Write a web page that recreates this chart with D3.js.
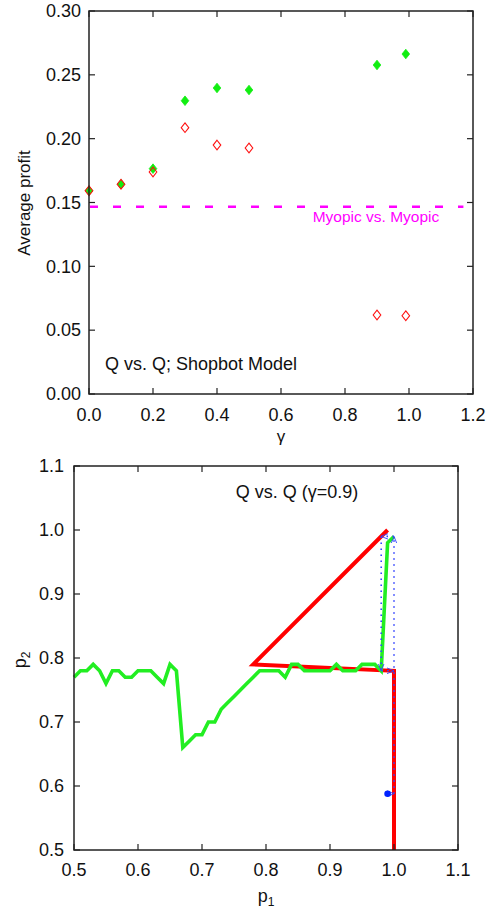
<!DOCTYPE html>
<html><head><meta charset="utf-8">
<script src="https://cdn.jsdelivr.net/npm/d3@7"></script>
<style>
html,body{margin:0;padding:0;background:#fff;}
svg{display:block;font-family:"Liberation Sans",Arial,sans-serif;}
</style></head>
<body>
<svg id="c" width="489" height="911"></svg>
<script>
// ---- Top chart data ----
const gammaValues = [0.0, 0.1, 0.2, 0.3, 0.4, 0.5, 0.9, 0.99];
const profitGreen = [0.1592, 0.1643, 0.1765, 0.2297, 0.2397, 0.2381, 0.2577, 0.2663];
const profitRed   = [0.1592, 0.1643, 0.1739, 0.2086, 0.1950, 0.1927, 0.0619, 0.0613];
const myopicLevel = 0.1467;
const topXTicks = [0, 0.2, 0.4, 0.6, 0.8, 1.0, 1.2];
const topYTicks = [0, 0.05, 0.10, 0.15, 0.20, 0.25, 0.30];

// ---- Bottom chart data ----
const greenP1 = [0.50,0.51,0.52,0.53,0.54,0.55,0.56,0.57,0.58,0.59,0.60,0.61,0.62,0.63,0.64,0.65,0.66,0.67,0.68,0.69,0.70,0.71,0.72,0.73,0.74,0.75,0.76,0.77,0.78,0.79,0.80,0.81,0.82,0.83,0.84,0.85,0.86,0.87,0.88,0.89,0.90,0.91,0.92,0.93,0.94,0.95,0.96,0.97,0.98,0.99,1.00];
const greenP2 = [0.77,0.78,0.78,0.79,0.78,0.76,0.78,0.78,0.77,0.77,0.78,0.78,0.78,0.77,0.76,0.79,0.78,0.66,0.67,0.68,0.68,0.70,0.70,0.72,0.73,0.74,0.75,0.76,0.77,0.78,0.78,0.78,0.78,0.77,0.79,0.79,0.78,0.78,0.78,0.78,0.78,0.79,0.78,0.78,0.78,0.79,0.79,0.79,0.78,0.98,0.99];
const redP1 = [0.99, 0.78, 1.00, 1.00];
const redP2 = [1.00, 0.79, 0.78, 0.50];
const trajP1 = [0.99, 1.00, 1.00, 0.98, 0.98, 1.00];
const trajP2 = [0.588, 0.588, 0.99, 0.99, 0.78, 0.78];
const botXTicks = [0.5, 0.6, 0.7, 0.8, 0.9, 1.0, 1.1];
const botYTicks = [0.5, 0.6, 0.7, 0.8, 0.9, 1.0, 1.1];

const svg = d3.select("#c");
const AXC = "#222";
const FS = 18;

svg.append("defs").append("marker")
  .attr("id","ah").attr("viewBox","0 0 10 10").attr("refX",10).attr("refY",5)
  .attr("markerWidth",7).attr("markerHeight",7).attr("orient","auto")
  .attr("markerUnits","userSpaceOnUse")
  .append("path").attr("d","M0,1 L10,5 L0,9").attr("fill","none").attr("stroke","#3344ff").attr("stroke-width",1.3);

function frame(g, x, y, xt, yt, xfmt, yfmt, xLabY, yLabX) {
  const [x0,x1] = x.range(), [y0,y1] = y.range(); // y0 bottom
  const T = 6;
  xt.forEach(v => {
    const px = x(v);
    g.append("line").attr("x1",px).attr("x2",px).attr("y1",y0).attr("y2",y0-T).attr("stroke",AXC).attr("stroke-width",1.2);
    g.append("line").attr("x1",px).attr("x2",px).attr("y1",y1).attr("y2",y1+T).attr("stroke",AXC).attr("stroke-width",1.2);
    g.append("text").attr("x",px).attr("y",xLabY).attr("text-anchor","middle").attr("font-size",FS).attr("fill","#111").text(xfmt(v));
  });
  yt.forEach(v => {
    const py = y(v);
    g.append("line").attr("x1",x0).attr("x2",x0+T).attr("y1",py).attr("y2",py).attr("stroke",AXC).attr("stroke-width",1.2);
    g.append("line").attr("x1",x1).attr("x2",x1-T).attr("y1",py).attr("y2",py).attr("stroke",AXC).attr("stroke-width",1.2);
    g.append("text").attr("x",yLabX).attr("y",py).attr("dy","0.35em").attr("text-anchor","end").attr("font-size",FS).attr("fill","#111").text(yfmt(v));
  });
  g.append("rect").attr("x",x0).attr("y",y1).attr("width",x1-x0).attr("height",y0-y1)
    .attr("fill","none").attr("stroke",AXC).attr("stroke-width",1.5);
}

// ---------- Top chart ----------
const xT = d3.scaleLinear().domain([0,1.2]).range([89,473]);
const yT = d3.scaleLinear().domain([0,0.30]).range([394,11]);
const gT = svg.append("g");

gT.append("line").attr("x1",xT(0)).attr("x2",xT(1.17)).attr("y1",yT(myopicLevel)).attr("y2",yT(myopicLevel))
  .attr("stroke","#ff00ff").attr("stroke-width",2.6).attr("stroke-dasharray","8,15").attr("stroke-dashoffset",-1);
gT.append("text").attr("x",376).attr("y",222).attr("text-anchor","middle").attr("font-size",15.5).attr("fill","#ff00ff").text("Myopic vs. Myopic");

const diamond = (cx,cy,w,h)=>`M${cx},${cy-h} L${cx+w},${cy} L${cx},${cy+h} L${cx-w},${cy} Z`;
gT.selectAll(".g").data(gammaValues).enter().append("path")
  .attr("d",(d,i)=>diamond(xT(d),yT(profitGreen[i]),3.8,4.8)).attr("fill","#11ee11").attr("stroke","#11ee11").attr("stroke-width",0.8);
gT.selectAll(".r").data(gammaValues).enter().append("path")
  .attr("d",(d,i)=>diamond(xT(d),yT(profitRed[i]),3.8,4.8)).attr("fill","none").attr("stroke","#ff1111").attr("stroke-width",1.1);

frame(gT, xT, yT, topXTicks, topYTicks, d3.format(".1f"), d3.format(".2f"), 421, 81);
gT.append("text").attr("x",105).attr("y",370).attr("font-size",18).attr("fill","#111").text("Q vs. Q; Shopbot Model");
gT.append("text").attr("transform","translate(24,203) rotate(-90)").attr("text-anchor","middle").attr("dy","0.35em").attr("font-size",17).attr("fill","#111").text("Average profit");
gT.append("text").attr("x",281).attr("y",442).attr("text-anchor","middle").attr("font-size",17).attr("fill","#111").text("γ");

// ---------- Bottom chart ----------
const xB = d3.scaleLinear().domain([0.5,1.1]).range([74,458]);
const yB = d3.scaleLinear().domain([0.5,1.1]).range([850,466]);
const gB = svg.append("g");
const line = d3.line().x(d=>xB(d[0])).y(d=>yB(d[1]));

gB.append("path").attr("d",line(redP1.map((v,i)=>[v,redP2[i]])))
  .attr("fill","none").attr("stroke","#ff0000").attr("stroke-width",4).attr("stroke-linejoin","miter");
gB.append("path").attr("d",line(greenP1.map((v,i)=>[v,greenP2[i]])))
  .attr("fill","none").attr("stroke","#22ee22").attr("stroke-width",3.6).attr("stroke-linejoin","miter");

for (let i=0;i<trajP1.length-1;i++){
  gB.append("line").attr("x1",xB(trajP1[i])).attr("y1",yB(trajP2[i])).attr("x2",xB(trajP1[i+1])).attr("y2",yB(trajP2[i+1]))
    .attr("stroke","#3344ff").attr("stroke-width",1.6).attr("stroke-dasharray","1.5,4.5").attr("marker-end","url(#ah)");
}
gB.append("circle").attr("cx",xB(trajP1[0])).attr("cy",yB(trajP2[0])).attr("r",3.3).attr("fill","#0022ff");

frame(gB, xB, yB, botXTicks, botYTicks, d3.format(".1f"), d3.format(".1f"), 876, 64);
gB.append("text").attr("x",297).attr("y",498).attr("text-anchor","middle").attr("font-size",18).attr("fill","#111").text("Q vs. Q (γ=0.9)");
const t1 = gB.append("text").attr("x",266).attr("y",902).attr("text-anchor","middle").attr("font-size",18).attr("fill","#111");
t1.append("tspan").text("p");
t1.append("tspan").attr("font-size",12).attr("dy",4).text("1");
const t2 = gB.append("text").attr("transform","translate(26,660) rotate(-90)").attr("text-anchor","middle").attr("font-size",18).attr("fill","#111");
t2.append("tspan").text("p");
t2.append("tspan").attr("font-size",12).attr("dy",4).text("2");
</script>
</body></html>
